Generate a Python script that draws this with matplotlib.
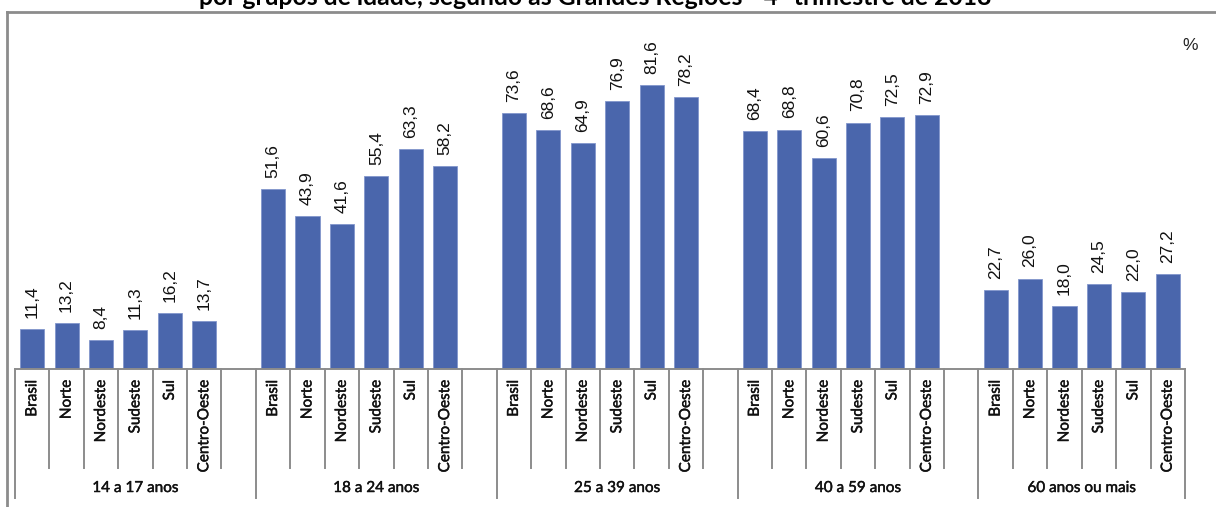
import numpy as np
import matplotlib
matplotlib.use('Agg')
import matplotlib.pyplot as plt
import matplotlib.patheffects as pe
from matplotlib.lines import Line2D

# data (%)
groups = ['14 a 17 anos', '18 a 24 anos', '25 a 39 anos', '40 a 59 anos', '60 anos ou mais']
regions = ['Brasil', 'Norte', 'Nordeste', 'Sudeste', 'Sul', 'Centro-Oeste']
v_14_17 = [11.4, 13.2, 8.4, 11.3, 16.2, 13.7]
v_18_24 = [51.6, 43.9, 41.6, 55.4, 63.3, 58.2]
v_25_39 = [73.6, 68.6, 64.9, 76.9, 81.6, 78.2]
v_40_59 = [68.4, 68.8, 60.6, 70.8, 72.5, 72.9]
v_60 = [22.7, 26.0, 18.0, 24.5, 22.0, 27.2]
values = [v_14_17, v_18_24, v_25_39, v_40_59, v_60]
title = 'por grupos de idade, segundo as Grandes Regiões - 4º trimestre de 2018'

bar_color = '#4A66AC'
grid_grey = '#8C8C8C'
lab_font = 'Lato'
val_font = 'Liberation Sans'
txt_col = '#111111'
# thin stroke to get the slightly heavier look of the screen-rendered Excel labels
thick = [pe.withStroke(linewidth=0.3, foreground=txt_col)]

fig = plt.figure(figsize=(12.16, 5.07), dpi=100)
ax = fig.add_axes([0.01234, 0.2722, 0.9621, 0.6521])

slot = 7  # 6 regions + one blank slot between groups
n_slots = slot * (len(groups) - 1) + len(regions)

for g, vals in enumerate(values):
    xs = [g * slot + r for r in range(len(regions))]
    ax.bar(xs, vals, width=0.7, color=bar_color, edgecolor='#8296CC', linewidth=0.6, zorder=2)
    for r, (x, v) in enumerate(zip(xs, vals)):
        ax.annotate('{:.1f}'.format(v).replace('.', ','), (x, v), xytext=(0, 8),
                    textcoords='offset points', rotation=90, ha='center', va='bottom',
                    fontsize=12.5, family=val_font, color=txt_col)
        ax.text(x, -0.033, regions[r], transform=ax.get_xaxis_transform(),
                rotation=90, ha='center', va='top', fontsize=11, family=lab_font,
                color=txt_col, path_effects=thick)
    # group label, centred on the group's span (blank slot included)
    last = g * slot + (slot if g < len(groups) - 1 else len(regions)) - 0.5
    first = g * slot - 0.5
    ax.text((first + last) / 2, -0.36, groups[g], transform=ax.get_xaxis_transform(),
            ha='center', va='center', fontsize=11, family=lab_font, color=txt_col,
            path_effects=thick)

# category separators under the axis
trans = ax.get_xaxis_transform()
for b in range(n_slots + 1):
    xb = b - 0.5
    long_line = (b % slot == 0) or b == n_slots
    ybot = -0.39 if long_line else -0.2995
    ax.plot([xb, xb], [0, ybot], transform=trans, color=grid_grey, lw=1.4, clip_on=False)

ax.set_xlim(-0.5, n_slots - 0.5)
ax.set_ylim(0, 95)
for s in ['top', 'right', 'left']:
    ax.spines[s].set_visible(False)
ax.spines['bottom'].set_color(grid_grey)
ax.spines['bottom'].set_linewidth(1.4)
ax.set_xticks([])
ax.set_yticks([])

# chart frame (only the left and top edges are in view)
fig.add_artist(Line2D([7 / 1216, 7 / 1216], [0, 1 - 12 / 507], transform=fig.transFigure,
                      color=grid_grey, lw=2))
fig.add_artist(Line2D([7 / 1216, 1], [1 - 12 / 507, 1 - 12 / 507], transform=fig.transFigure,
                      color=grid_grey, lw=2))

fig.text(1190 / 1216, 1 - 45 / 507, '%', ha='center', va='center', fontsize=12.5,
         family=val_font, color='#222222')
fig.text(595 / 1216, 1 - 5 / 507, title, ha='center', va='baseline', fontsize=17.8,
         family=lab_font, weight='bold', color='black')

fig.savefig('out.png', dpi=100)
